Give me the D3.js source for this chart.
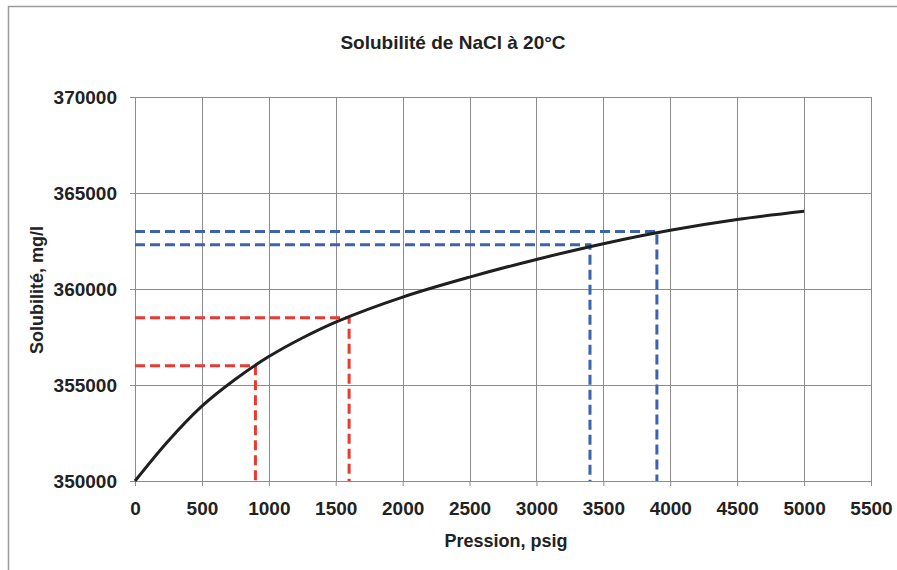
<!DOCTYPE html>
<html>
<head>
<meta charset="utf-8">
<script src="https://cdn.jsdelivr.net/npm/d3@7"></script>
<style>
  body { margin: 0; background: #fff; }
  svg text { font-family: "Liberation Sans", Arial, sans-serif; font-weight: bold; fill: #222; }
  .grid line { stroke: #8c8c8c; stroke-width: 1; }
  .axis path, .axis line { stroke: #8c8c8c; stroke-width: 1; }
  .axis text { font-size: 19px; }
</style>
</head>
<body>
<div id="chart"></div>
<script>
// values
var pressure   = [0, 250, 500, 750, 1000, 1250, 1500, 2000, 2500, 3000, 3500, 4000, 4500, 5000];
var solubility = [350000, 352100, 353900, 355300, 356480, 357450, 358280, 359580, 360620, 361540, 362360, 363060, 363620, 364050];

// reading guides (dashed)
var guidePressure   = [900, 1600, 3400, 3900];
var guideSolubility = [356000, 358500, 362300, 363000];
var guideColor      = ["#e83a30", "#e83a30", "#3b63ae", "#3b63ae"];

var xTicks = [0, 500, 1000, 1500, 2000, 2500, 3000, 3500, 4000, 4500, 5000, 5500];
var yTicks = [350000, 355000, 360000, 365000, 370000];

var totalWidth = 897, totalHeight = 570;
var margin = {left: 135, right: 26, top: 97, bottom: 89};
var width = totalWidth - margin.left - margin.right;
var height = totalHeight - margin.top - margin.bottom;

var svg = d3.select("#chart").append("svg")
  .attr("width", totalWidth)
  .attr("height", totalHeight);

// outer frame (only left and top edges show)
svg.append("path")
  .attr("d", "M8.5," + totalHeight + "V6.5H" + totalWidth)
  .attr("fill", "none")
  .attr("stroke", "#9a9a9a")
  .attr("stroke-width", 1.5);

var g = svg.append("g")
  .attr("transform", "translate(" + margin.left + "," + margin.top + ")");

var xScale = d3.scaleLinear().domain([0, 5500]).range([0, width]);
var yScale = d3.scaleLinear().domain([350000, 370000]).range([height, 0]);

// grid
g.append("g").attr("class", "grid")
  .selectAll("line").data(xTicks).enter().append("line")
  .attr("x1", function(d) { return Math.round(xScale(d)) + 0.5; })
  .attr("x2", function(d) { return Math.round(xScale(d)) + 0.5; })
  .attr("y1", 0).attr("y2", height);

g.append("g").attr("class", "grid")
  .selectAll("line").data(yTicks).enter().append("line")
  .attr("y1", function(d) { return Math.round(yScale(d)) + 0.5; })
  .attr("y2", function(d) { return Math.round(yScale(d)) + 0.5; })
  .attr("x1", 0).attr("x2", width);

// axes
var xAxis = d3.axisBottom(xScale).tickValues(xTicks).tickFormat(d3.format("d")).tickSizeInner(5).tickSizeOuter(0).tickPadding(16);
g.append("g")
  .attr("class", "axis")
  .attr("transform", "translate(0," + height + ")")
  .call(xAxis);

var yAxis = d3.axisLeft(yScale).tickValues(yTicks).tickFormat(d3.format("d")).tickSizeInner(5).tickSizeOuter(0).tickPadding(13);
g.append("g")
  .attr("class", "axis")
  .call(yAxis);

// dashed guides
guidePressure.forEach(function(p, i) {
  var px = xScale(p), py = yScale(guideSolubility[i]);
  g.append("path")
    .attr("d", "M0," + py + "H" + px + "V" + height)
    .attr("fill", "none")
    .attr("stroke", guideColor[i])
    .attr("stroke-width", 3)
    .attr("stroke-dasharray", "10,5");
});

// curve
var line = d3.line()
  .x(function(d, i) { return xScale(pressure[i]); })
  .y(function(d) { return yScale(d); })
  .curve(d3.curveCatmullRom);

g.append("path")
  .datum(solubility)
  .attr("d", line)
  .attr("fill", "none")
  .attr("stroke", "#1f1f1f")
  .attr("stroke-width", 3);

// titles
svg.append("text")
  .attr("x", 453).attr("y", 49)
  .attr("text-anchor", "middle")
  .style("font-size", "19px")
  .text("Solubilité de NaCl à 20°C");

svg.append("text")
  .attr("x", 506).attr("y", 547)
  .attr("text-anchor", "middle")
  .style("font-size", "18px")
  .text("Pression, psig");

svg.append("text")
  .attr("transform", "translate(43,290) rotate(-90)")
  .attr("text-anchor", "middle")
  .style("font-size", "18px")
  .text("Solubilité, mg/l");
</script>
</body>
</html>
